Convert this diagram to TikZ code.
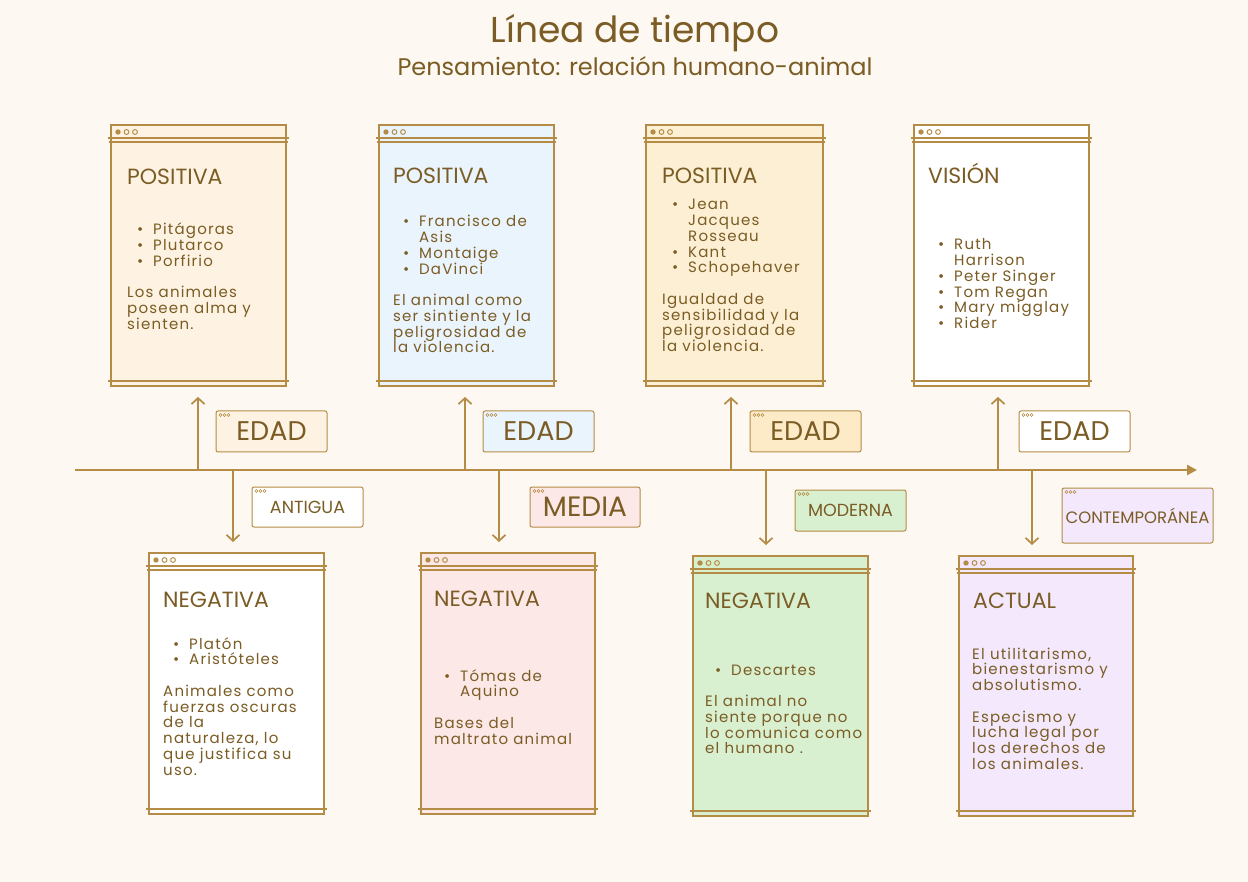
\documentclass[tikz,border=0pt]{standalone}
\usepackage{fontspec}
\setmainfont{Poppins}
\newfontfamily\bodyfont{Poppins}[LetterSpace=8]
\usetikzlibrary{arrows.meta}

\definecolor{paper}{HTML}{FDF8F1}
\definecolor{edge}{HTML}{B58C45}
\definecolor{ink}{HTML}{7A5C24}
\definecolor{peach}{HTML}{FEF3E2}
\definecolor{sky}{HTML}{EAF4FD}
\definecolor{sand}{HTML}{FDEFD3}
\definecolor{honey}{HTML}{FDEBC8}
\definecolor{rose}{HTML}{FDE8E8}
\definecolor{mint}{HTML}{D9F0D0}
\definecolor{lilac}{HTML}{F3E8FC}

\tikzset{
  card/.style={draw=edge, line width=1.9pt, minimum width=175pt, minimum height=261pt, anchor=north west, inner sep=0pt},
  tag/.style={draw=edge, line width=1pt, rounded corners=2pt, text=ink, inner sep=0pt},
  head/.style={anchor=base west, inner sep=0pt, text=ink, font=\fontsize{22}{26}\selectfont},
  body/.style={anchor=base west, inner sep=0pt, align=left, text=ink, font=\bodyfont\fontsize{15}{15.75}\selectfont},
  tick/.style={draw=edge, line width=1.7pt, -{Straight Barb[length=6pt,width=13pt]}},
}
\newcommand{\bul}[1]{\hspace*{10pt}\makebox[16pt][l]{\textbullet}#1}
\newcommand{\cnt}[1]{\hspace*{26pt}#1}

\begin{document}
\begin{tikzpicture}[x=1pt, y=-1pt]
\fill[paper] (0,0) rectangle (1248,882);

% titulo
\node[anchor=base, text=ink, font=\fontsize{36}{42}\selectfont] (title) at (635,43) {Línea de tiempo};
\node[anchor=base, text=ink, font=\fontsize{24}{28}\selectfont] (subtitle) at (635,76) {Pensamiento: relación humano-animal};

% tarjetas de arriba
\node[card, fill=peach] (p1) at (110,124) {};
\node[card, fill=sky] (p2) at (378,124) {};
\node[card, fill=sand, minimum width=177pt] (p3) at (645,124) {};
\node[card, fill=white] (p4) at (913,124) {};
% tarjetas de abajo
\node[card, fill=white] (n1) at (148,552) {};
\node[card, fill=rose, minimum width=174pt] (n2) at (420,552) {};
\node[card, fill=mint, minimum height=260pt] (n3) at (692,555) {};
\node[card, fill=lilac, minimum width=174pt, minimum height=260pt] (n4) at (958,555) {};

\foreach \c in {p1,p2,p3,p4,n1,n2,n3,n4}{
  \draw[edge, line width=1.6pt] ([xshift=-2pt,yshift=-14pt]\c.north west) -- ([xshift=2pt,yshift=-14pt]\c.north east);
  \draw[edge, line width=1.6pt] ([xshift=-1pt,yshift=-18pt]\c.north west) -- ([xshift=1pt,yshift=-18pt]\c.north east);
  \draw[edge, line width=1.6pt] ([xshift=-2pt,yshift=6pt]\c.south west) -- ([xshift=2pt,yshift=6pt]\c.south east);
  \fill[edge] ([xshift=8pt,yshift=-8pt]\c.north west) circle (2.7pt);
  \draw[edge, line width=1pt] ([xshift=16.5pt,yshift=-8pt]\c.north west) circle (2.4pt);
  \draw[edge, line width=1pt] ([xshift=25pt,yshift=-8pt]\c.north west) circle (2.4pt);
}

% textos (el nodo se ancla en la linea base de su ultima linea)
\node[head] (p1h) at (127,185) {POSITIVA};
\node[body] (p1b) at (127,329.5) {\bul{Pitágoras}\\\bul{Plutarco}\\\bul{Porfirio}\\[15.75pt]Los animales\\poseen alma y\\sienten.};

\node[head] (p2h) at (393,184) {POSITIVA};
\node[body] (p2b) at (393,353) {\bul{Francisco de}\\\cnt{Asis}\\\bul{Montaige}\\\bul{DaVinci}\\[15.75pt]El animal como\\ser sintiente y la\\peligrosidad de\\la violencia.};

\node[head] (p3h) at (662,184) {POSITIVA};
\node[body] (p3b) at (662,351.75) {\bul{Jean}\\\cnt{Jacques}\\\cnt{Rosseau}\\\bul{Kant}\\\bul{Schopehaver}\\[15.75pt]Igualdad de\\sensibilidad y la\\peligrosidad de\\la violencia.};

\node[head] (p4h) at (928,184) {VISIÓN};
\node[body] (p4b) at (928,328.75) {\bul{Ruth}\\\cnt{Harrison}\\\bul{Peter Singer}\\\bul{Tom Regan}\\\bul{Mary migglay}\\\bul{Rider}};

\node[head] (n1h) at (163,607) {NEGATIVA};
\node[body] (n1b) at (163,775) {\bul{Platón}\\\bul{Aristóteles}\\[15.75pt]Animales como\\fuerzas oscuras\\de la\\naturaleza, lo\\que justifica su\\uso.};

\node[head] (n2h) at (434,606) {NEGATIVA};
\node[body] (n2b) at (434,744) {\bul{Tómas de}\\\cnt{Aquino}\\[15.75pt]Bases del\\maltrato animal};

\node[head] (n3h) at (705,608) {NEGATIVA};
\node[body] (n3b) at (705,753.75) {\bul{Descartes}\\[15.75pt]El animal no\\siente porque no\\lo comunica como\\el humano .};

\node[head] (n4h) at (973,608) {ACTUAL};
\node[body] (n4b) at (972,769.25) {El utilitarismo,\\bienestarismo y\\absolutismo.\\[15.75pt]Especismo y\\lucha legal por\\los derechos de\\los animales.};

% etiquetas
\node[tag, fill=peach, minimum width=111pt, minimum height=41pt, font=\fontsize{27}{30}\selectfont] (e1) at (271.5,431.5) {EDAD};
\node[tag, fill=sky, minimum width=111pt, minimum height=41pt, font=\fontsize{27}{30}\selectfont] (e2) at (538.5,431.5) {EDAD};
\node[tag, fill=honey, minimum width=111pt, minimum height=41pt, font=\fontsize{27}{30}\selectfont] (e3) at (805.5,431.5) {EDAD};
\node[tag, fill=white, minimum width=111pt, minimum height=41pt, font=\fontsize{27}{30}\selectfont] (e4) at (1074.5,431.5) {EDAD};
\node[tag, fill=white, minimum width=111pt, minimum height=40pt, font=\fontsize{17.5}{20}\selectfont] (a1) at (307.5,507) {ANTIGUA};
\node[tag, fill=rose, minimum width=110pt, minimum height=40pt, font=\fontsize{28}{30}\selectfont] (a2) at (585,507) {MEDIA};
\node[tag, fill=mint, minimum width=111pt, minimum height=41pt, font=\fontsize{17.5}{20}\selectfont] (a3) at (850.5,510.5) {MODERNA};
\node[tag, fill=lilac, minimum width=151pt, minimum height=55pt, font=\fontsize{16.5}{20}\selectfont] (a4) at (1137.5,515.5) {CONTEMPORÁNEA};

\foreach \t in {e1,e2,e3,e4,a1,a2,a3,a4}
  \foreach \k in {0,1,2}
    \draw[edge, line width=0.5pt] ([xshift={5pt+\k*4pt}, yshift=-4.5pt]\t.north west) circle (1.5pt);

% linea
\coordinate (t0) at (75,470);
\coordinate (t1) at (1197,470);
\draw[edge, line width=2.4pt, -{Triangle[length=10pt,width=10pt]}] (t0) -- (t1);

\foreach \i/\x in {1/198, 2/465, 3/731, 4/998}
  \coordinate (u\i) at (\x,470);
\foreach \i/\x in {1/233, 2/499, 3/766, 4/1032}
  \coordinate (d\i) at (\x,470);
\foreach \i in {1,...,4}{
  \draw[tick, shorten >=10pt] (u\i) -- (u\i |- p\i.south);
  \draw[tick, shorten >=10pt] (d\i) -- (d\i |- n\i.north);
}

\end{tikzpicture}
\end{document}
